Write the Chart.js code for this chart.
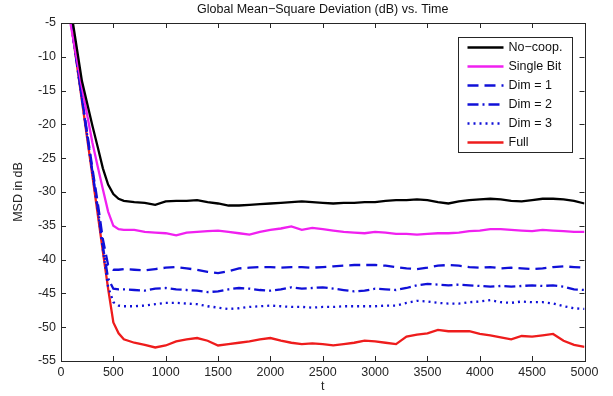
<!DOCTYPE html>
<html>
<head>
<meta charset="utf-8">
<script src="https://cdn.jsdelivr.net/npm/chart.js@4.4.1/dist/chart.umd.min.js"></script>
<style>
  html, body { margin: 0; padding: 0; background: #fff; }
  #wrap { width: 613px; height: 396px; }
</style>
</head>
<body>
<div id="wrap"><canvas id="msd"></canvas></div>
<script>
// time samples (t)
const time = [0, 100, 200, 300, 350, 400, 450, 500, 550, 600,
  700, 800, 900, 1000, 1100, 1200, 1300, 1400, 1500, 1600, 1700, 1800, 1900, 2000,
  2100, 2200, 2300, 2400, 2500, 2600, 2700, 2800, 2900, 3000,
  3100, 3200, 3300, 3400, 3500, 3600, 3700, 3800, 3900, 4000,
  4100, 4200, 4300, 4400, 4500, 4600, 4700, 4800, 4900, 5000];

const noCoop = [5, -3.6, -13.6, -20.2, -23.3, -26.5, -28.9, -30.3, -31.0, -31.3,
  -31.5, -31.6, -31.9, -31.4, -31.3, -31.3, -31.2, -31.5, -31.7, -32.0, -32.0, -31.9, -31.8, -31.7,
  -31.6, -31.5, -31.4, -31.5, -31.6, -31.7, -31.6, -31.6, -31.5, -31.5,
  -31.3, -31.2, -31.2, -31.1, -31.2, -31.5, -31.7, -31.4, -31.2, -31.1,
  -31.0, -31.1, -31.3, -31.4, -31.2, -31.0, -31.0, -31.1, -31.3, -31.7];

const singleBit = [3, -5.9, -14.5, -22.7, -26.2, -29.6, -32.9, -35.0, -35.5, -35.6,
  -35.6, -35.9, -36.0, -36.1, -36.4, -36.0, -35.9, -35.8, -35.7, -35.9, -36.1, -36.3, -35.9, -35.6,
  -35.4, -35.1, -35.6, -35.3, -35.5, -35.7, -35.9, -36.0, -36.1, -35.9,
  -36.0, -36.2, -36.2, -36.3, -36.2, -36.1, -36.1, -36.0, -35.8, -35.7,
  -35.5, -35.5, -35.6, -35.7, -35.8, -35.6, -35.7, -35.8, -35.9, -35.9];

const dim1 = [5.5, -5.2, -16.0, -26.5, -31.5, -37.0, -40.8, -41.5, -41.5, -41.4,
  -41.5, -41.6, -41.4, -41.2, -41.1, -41.3, -41.5, -41.8, -42.0, -41.7, -41.3, -41.2, -41.1, -41.1,
  -41.2, -41.1, -41.1, -41.2, -41.1, -41.0, -40.9, -40.8, -40.8, -40.8,
  -40.9, -41.1, -41.3, -41.4, -41.2, -40.9, -40.8, -40.9, -41.1, -41.2,
  -41.1, -41.3, -41.2, -41.3, -41.4, -41.3, -41.1, -41.0, -41.1, -41.2];

const dim2 = [5.5, -5.3, -16.2, -27.0, -32.2, -38.0, -42.8, -44.3, -44.4, -44.4,
  -44.5, -44.6, -44.3, -44.2, -44.4, -44.5, -44.6, -44.8, -44.7, -44.4, -44.2, -44.3, -44.5, -44.6,
  -44.4, -44.1, -44.3, -44.2, -44.1, -44.3, -44.5, -44.7, -44.6, -44.3,
  -44.4, -44.5, -44.2, -43.8, -43.6, -43.7, -43.8, -43.7, -43.8, -43.9,
  -44.0, -43.9, -44.0, -43.9, -43.8, -43.9, -43.8, -44.0, -44.4, -44.5];

const dim3 = [5.5, -5.4, -16.3, -27.2, -32.6, -38.5, -44.0, -46.3, -46.8, -46.9,
  -46.9, -46.8, -46.6, -46.4, -46.4, -46.5, -46.6, -46.9, -47.1, -47.3, -47.2, -47.0, -46.9, -46.8,
  -46.9, -47.0, -47.0, -47.1, -47.0, -47.0, -46.9, -46.9, -46.9, -46.9,
  -46.8, -46.8, -46.4, -46.1, -46.2, -46.4, -46.5, -46.5, -46.3, -46.2,
  -46.0, -46.3, -46.4, -46.2, -46.3, -46.3, -46.5, -46.9, -47.2, -47.3];

const full = [5.8, -5.4, -16.5, -27.6, -33.2, -38.8, -44.3, -49.3, -50.9, -51.8,
  -52.3, -52.6, -53.0, -52.7, -52.1, -51.8, -51.6, -52.0, -52.7, -52.5, -52.3, -52.1, -51.8, -51.6,
  -52.0, -52.3, -52.5, -52.4, -52.5, -52.7, -52.5, -52.3, -52.0, -52.1,
  -52.3, -52.5, -51.4, -51.1, -50.9, -50.4, -50.6, -50.6, -50.6, -51.0,
  -51.2, -51.5, -51.8, -51.3, -51.4, -51.2, -51.0, -52.0, -52.6, -52.9];

const seriesNames = ['No\u2212coop.', 'Single Bit', 'Dim = 1', 'Dim = 2', 'Dim = 3', 'Full'];
const seriesValues = [noCoop, singleBit, dim1, dim2, dim3, full];
const seriesColors = ['#000000', '#f020f0', '#1010d8', '#1010d8', '#1010d8', '#ee1c1c'];
const seriesDash = [[], [], [11, 6], [11, 4, 2, 4], [2, 4], []];

const xTicks = [0, 500, 1000, 1500, 2000, 2500, 3000, 3500, 4000, 4500, 5000];
const yTicks = [-55, -50, -45, -40, -35, -30, -25, -20, -15, -10, -5];

const FONT = 'Arial, "Liberation Sans", Helvetica, sans-serif';
const AXIS_COLOR = '#262626';

const datasets = seriesNames.map((name, i) => ({
  label: name,
  data: time.map((t, k) => ({ x: t, y: seriesValues[i][k] })),
  borderColor: seriesColors[i],
  backgroundColor: seriesColors[i],
  borderWidth: 2.3,
  borderDash: seriesDash[i],
  pointRadius: 0,
  tension: 0,
  clip: 0
}));

// box around the axes, inward ticks on all four sides, legend box
const matlabAxes = {
  id: 'matlabAxes',
  afterDatasetsDraw(chart) {
    const ctx = chart.ctx;
    const a = chart.chartArea;
    const xs = chart.scales.x, ys = chart.scales.y;
    ctx.save();
    ctx.strokeStyle = AXIS_COLOR;
    ctx.lineWidth = 1;
    ctx.setLineDash([]);
    ctx.beginPath();
    const tl = 5;
    xTicks.forEach(v => {
      const px = Math.round(xs.getPixelForValue(v)) + 0.5;
      ctx.moveTo(px, a.bottom); ctx.lineTo(px, a.bottom - tl);
      ctx.moveTo(px, a.top); ctx.lineTo(px, a.top + tl);
    });
    yTicks.forEach(v => {
      const py = Math.round(ys.getPixelForValue(v)) + 0.5;
      ctx.moveTo(a.left, py); ctx.lineTo(a.left + tl, py);
      ctx.moveTo(a.right, py); ctx.lineTo(a.right - tl, py);
    });
    ctx.stroke();
    ctx.strokeRect(Math.round(a.left) + 0.5, Math.round(a.top) + 0.5,
      Math.round(a.right - a.left), Math.round(a.bottom - a.top));

    // legend
    const lx = 458.5, ly = 37.5, lw = 114, lh = 115;
    ctx.fillStyle = '#ffffff';
    ctx.fillRect(lx, ly, lw, lh);
    ctx.strokeRect(lx, ly, lw, lh);
    const rowH = 19;
    const first = ly + (lh - rowH * (seriesNames.length - 1)) / 2;
    ctx.font = '12.5px ' + FONT;
    ctx.textBaseline = 'middle';
    ctx.textAlign = 'left';
    chart.data.datasets.forEach((ds, i) => {
      const y = first + i * rowH;
      ctx.strokeStyle = ds.borderColor;
      ctx.lineWidth = ds.borderWidth;
      ctx.setLineDash(ds.borderDash);
      ctx.beginPath();
      ctx.moveTo(lx + 9, y);
      ctx.lineTo(lx + 45, y);
      ctx.stroke();
      ctx.fillStyle = '#111';
      ctx.fillText(ds.label, lx + 50, y + 0.5);
    });
    ctx.restore();
  }
};

new Chart(document.getElementById('msd'), {
  type: 'line',
  data: { datasets: datasets },
  options: {
    responsive: true,
    maintainAspectRatio: false,
    animation: false,
    events: [],
    layout: { padding: { left: 0, right: 28.5, top: 0, bottom: 0 } },
    plugins: {
      legend: { display: false },
      tooltip: { enabled: false },
      title: {
        display: true,
        fullSize: false,
        text: 'Global Mean\u2212Square Deviation (dB) vs. Time',
        color: '#111',
        font: { family: FONT, size: 12.5, weight: 'normal' },
        padding: { top: 2, bottom: 6 }
      }
    },
    scales: {
      x: {
        type: 'linear',
        min: 0,
        max: 5000,
        afterBuildTicks: s => { s.ticks = xTicks.map(v => ({ value: v })); },
        afterFit: s => { s.height = 35; },
        grid: { display: false, drawTicks: false },
        border: { display: false },
        ticks: { color: AXIS_COLOR, padding: 4, maxRotation: 0, autoSkip: false,
                 font: { family: FONT, size: 12.5 }, callback: v => String(v) },
        title: { display: true, text: 't', color: AXIS_COLOR,
                 font: { family: FONT, size: 12.5 }, padding: { top: 0, bottom: 2 } }
      },
      y: {
        type: 'linear',
        min: -55,
        max: -5,
        afterBuildTicks: s => { s.ticks = yTicks.map(v => ({ value: v })); },
        afterFit: s => { s.width = 61; },
        grid: { display: false, drawTicks: false },
        border: { display: false },
        ticks: { color: AXIS_COLOR, padding: 5, autoSkip: false,
                 font: { family: FONT, size: 12.5 }, callback: v => String(v) },
        title: { display: true, text: 'MSD in dB', color: AXIS_COLOR,
                 font: { family: FONT, size: 12.5 }, padding: { top: 11, bottom: 0 } }
      }
    }
  },
  plugins: [matlabAxes]
});
</script>
</body>
</html>
